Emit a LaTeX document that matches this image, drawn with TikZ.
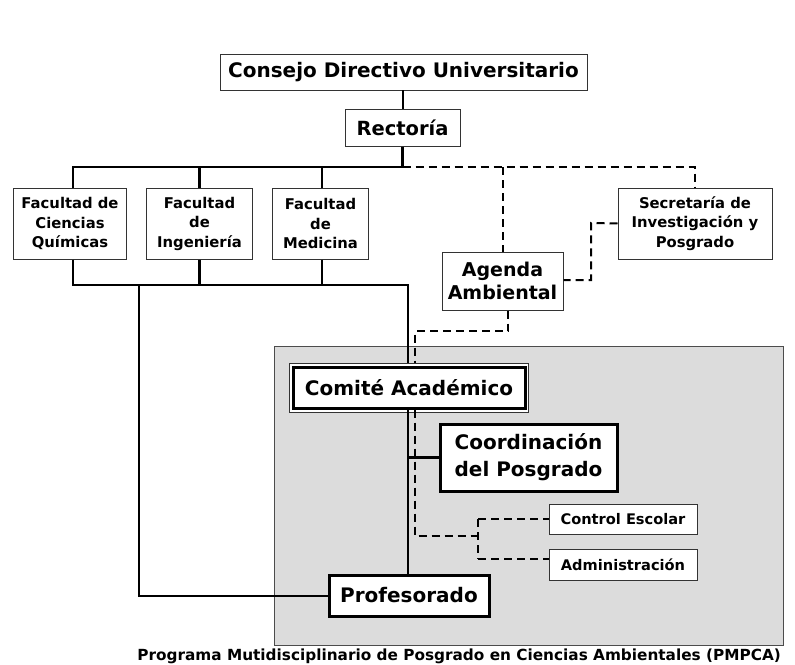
\documentclass[tikz,border=0pt]{standalone}
\usepackage{fontspec}
\setmainfont{DejaVu Sans}
\usetikzlibrary{calc}
\definecolor{greyfill}{HTML}{DCDCDC}
\definecolor{thinborder}{HTML}{333333}
\tikzset{
  thinbox/.style={draw=thinborder, line width=1pt, fill=white, align=center, inner sep=0pt},
  thickbox/.style={draw=black, line width=3pt, fill=white, align=center, inner sep=0pt},
  solidline/.style={line width=2.6pt, draw=black},
  dashline/.style={line width=2pt, draw=black, dash pattern=on 8pt off 5pt},
  fbig/.style={font=\bfseries\fontsize{20}{23}\selectfont},
  frect/.style={font=\bfseries\fontsize{19.5}{23}\selectfont},
  fhuge/.style={font=\bfseries\fontsize{20}{27}\selectfont},
  fmid/.style={font=\bfseries\fontsize{19}{23}\selectfont},
  fsmall/.style={font=\bfseries\fontsize{14.8}{19.5}\selectfont},
  fce/.style={font=\bfseries\fontsize{14.6}{17}\selectfont},
}
\begin{document}
\begin{tikzpicture}[x=1pt,y=-1pt]
\useasboundingbox (0,0) rectangle (795,664);
% grey region
\fill[greyfill] (274,346) rectangle (783,645);
\draw[black!70, line width=1pt] (274,346) rectangle (783,645);

% nodes
\node[thinbox, fbig, minimum width=367pt, minimum height=36pt] (consejo) at (403.5,72) {Consejo Directivo Universitario};
\node[thinbox, frect, minimum width=115pt, minimum height=37pt] (rectoria) at (402.5,127.5) {Rectoría};
\node[thinbox, fsmall, minimum width=113pt, minimum height=71pt] (fcq) at (70,223.5) {Facultad de\\Ciencias\\Químicas};
\node[thinbox, fsmall, minimum width=106pt, minimum height=71pt] (fi) at (199.5,223.5) {Facultad\\de\\Ingeniería};
\node[thinbox, fsmall, minimum width=96pt, minimum height=71pt] (fm) at (320.5,223.5) {Facultad\\de\\Medicina};
\node[thinbox, fsmall, minimum width=154pt, minimum height=71pt] (sec) at (695,223.5) {Secretaría de\\Investigación y\\Posgrado};
\node[thinbox, fmid, minimum width=121pt, minimum height=58pt] (agenda) at (502.5,281) {Agenda\\Ambiental};
\node[thinbox, minimum width=239pt, minimum height=49pt] (comiteout) at (409,387.5) {};
\node[thickbox, fhuge, minimum width=232pt, minimum height=41pt] (comite) at (409,387.5) {Comité Académico};
\node[thickbox, fhuge, minimum width=177pt, minimum height=67pt] (coord) at (528.5,457.5) {Coordinación\\del Posgrado};
\node[thinbox, fce, minimum width=148pt, minimum height=30pt] (ce) at (623,519) {Control Escolar};
\node[thinbox, fce, minimum width=148pt, minimum height=31pt] (adm) at (623,564.5) {Administración};
\node[thickbox, fhuge, minimum width=160pt, minimum height=41pt] (prof) at (409,595.5) {Profesorado};
\node[font=\bfseries\fontsize{15.3}{17}\selectfont, anchor=east, inner sep=0pt] (caption) at (781,656) {Programa Mutidisciplinario de Posgrado en Ciencias Ambientales (PMPCA)};

% coordinates
\coordinate (topbus) at (402.5,167);
\coordinate (botbus) at (408,285);
\coordinate (dbus) at (415,331);
\coordinate (split) at (478,536);

% solid connectors
\draw[line width=2pt] (consejo.south) -- (rectoria.south |- consejo.south) -- (rectoria.north);
\draw[solidline] (rectoria.south) -- (topbus) -- (73,167) -- (73,167 |- fcq.north);
\draw[solidline] (fi.north) -- (fi.north |- topbus);
\draw[solidline] (fm.north -| 322,0) -- (322,167);
\draw[solidline] (fcq.south -| 73,0) -- (73,285) -- (botbus) -- (botbus |- comiteout.north);
\draw[solidline] (fi.south) -- (fi.south |- botbus);
\draw[solidline] (fm.south -| 322,0) -- (322,285);
\draw[solidline] (139,285) -- (139,596) -- (prof.west |- 0,596);
\draw[solidline] (408,0 |- comite.south) -- (408,0 |- prof.north);
\draw[solidline] (408,457.5) -- (coord.west);

% dashed connectors
\draw[dashline] (topbus) -- (695,167) -- (sec.north);
\draw[dashline] (502.5,167) -- (agenda.north);
\draw[dashline] (sec.west) -- (591,223) -- (591,280) -- (agenda.east |- 0,280);
\draw[dashline] (508,0 |- agenda.south) -- (508,331) -- (dbus) -- (dbus |- comiteout.north);
\draw[dashline] (415,0 |- comite.south) -- (415,536) -- (split);
\draw[dashline] (478,519) -- (478,559);
\draw[dashline] (478,519) -- (ce.west);
\draw[dashline] (478,559) -- (adm.west |- 0,559);
\end{tikzpicture}
\end{document}
